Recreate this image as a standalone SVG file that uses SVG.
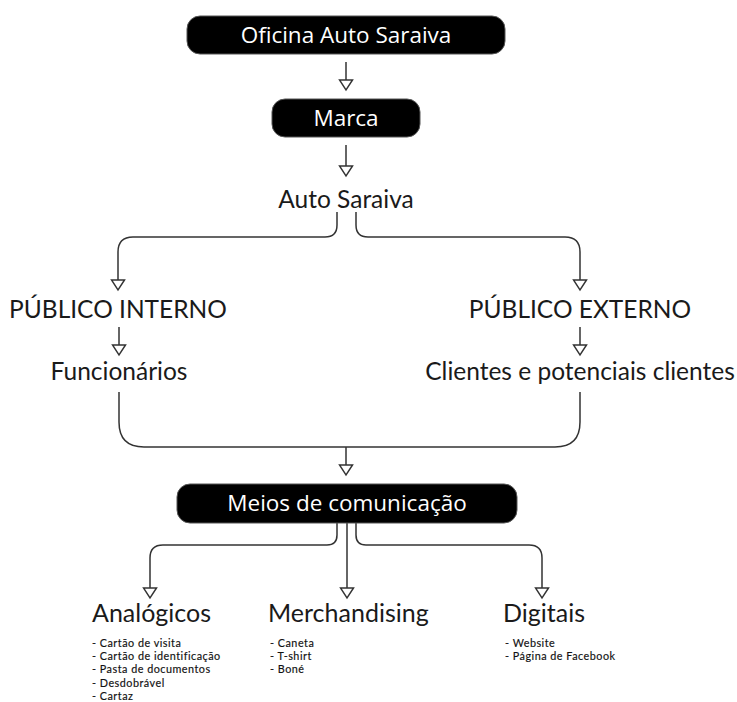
<svg xmlns="http://www.w3.org/2000/svg" width="737" height="702" viewBox="0 0 737 702">
<defs>
<marker id="arr" markerUnits="userSpaceOnUse" markerWidth="14" markerHeight="16" viewBox="-1 -8 13 16" refX="0" refY="0" orient="auto">
<path d="M0,-6.5 L10,0 L0,6.5 Z" fill="#fff" stroke="#333" stroke-width="1.4" stroke-linejoin="miter"/>
</marker>
<style>
.box{fill:#000;stroke:#555;stroke-width:1}
.bt{font-family:"Open Sans","Noto Sans",sans-serif;font-size:22.5px;fill:#fff;text-anchor:middle}
.t{font-family:Lato,"Liberation Sans",sans-serif;font-size:24.5px;fill:#1a1a1a;text-anchor:middle}
.h{font-family:Lato,"Liberation Sans",sans-serif;font-size:25px;fill:#1a1a1a}
.li{font-family:Lato,"Liberation Sans",sans-serif;font-size:10.8px;letter-spacing:0.5px;fill:#111;stroke:#111;stroke-width:0.15}
.c path{fill:none;stroke:#333;stroke-width:1.5}
.c .a{marker-end:url(#arr)}
</style>
</defs>
<rect width="737" height="702" fill="#fff"/>
<g class="c" id="connectors">
<path class="a" d="M346,62 V80"/>
<path class="a" d="M346,145 V166"/>
<path class="a" d="M337,212 V225 Q337,237 325,237 H133 Q118,237 118,252 V280"/>
<path class="a" d="M356,212 V225 Q356,237 368,237 H565 Q580,237 580,252 V280"/>
<path class="a" d="M119,327 V345"/>
<path class="a" d="M580,327 V345"/>
<path d="M119,392 V422 Q119,447 144,447 H555 Q580,447 580,422 V392"/>
<path class="a" d="M346,447 V465"/>
<path class="a" d="M337,523 V535 Q337,545 327,545 H163 Q150,545 150,558 V588"/>
<path class="a" d="M347,523 V588"/>
<path class="a" d="M356,523 V535 Q356,545 366,545 H529 Q542,545 542,558 V588"/>
</g>
<g id="oficina">
<rect class="box" x="187" y="16" width="318" height="38" rx="13"/>
<text class="bt" x="346" y="43">Oficina Auto Saraiva</text>
</g>
<g id="marca">
<rect class="box" x="272" y="99" width="148" height="38" rx="13"/>
<text class="bt" x="346" y="126">Marca</text>
</g>
<g id="auto-saraiva">
<text class="t" x="346" y="208">Auto Saraiva</text>
</g>
<g id="publico-interno">
<text class="t" x="118" y="318">PÚBLICO INTERNO</text>
</g>
<g id="publico-externo">
<text class="t" x="580" y="318">PÚBLICO EXTERNO</text>
</g>
<g id="funcionarios">
<text class="t" x="119" y="380">Funcionários</text>
</g>
<g id="clientes">
<text class="t" x="580" y="380">Clientes e potenciais clientes</text>
</g>
<g id="meios">
<rect class="box" x="177" y="484" width="340" height="39" rx="13"/>
<text class="bt" x="347" y="511">Meios de comunicação</text>
</g>
<g id="analogicos">
<text class="h" x="92" y="622">Analógicos</text>
<text class="li" x="92" y="647">- Cartão de visita</text>
<text class="li" x="92" y="660.2">- Cartão de identificação</text>
<text class="li" x="92" y="673.4">- Pasta de documentos</text>
<text class="li" x="92" y="686.6">- Desdobrável</text>
<text class="li" x="92" y="699.8">- Cartaz</text>
</g>
<g id="merchandising">
<text class="h" x="268" y="622">Merchandising</text>
<text class="li" x="270" y="647">- Caneta</text>
<text class="li" x="270" y="660.2">- T-shirt</text>
<text class="li" x="270" y="673.4">- Boné</text>
</g>
<g id="digitais">
<text class="h" x="503" y="622">Digitais</text>
<text class="li" x="505" y="647">- Website</text>
<text class="li" x="505" y="660.2">- Página de Facebook</text>
</g>
</svg>
